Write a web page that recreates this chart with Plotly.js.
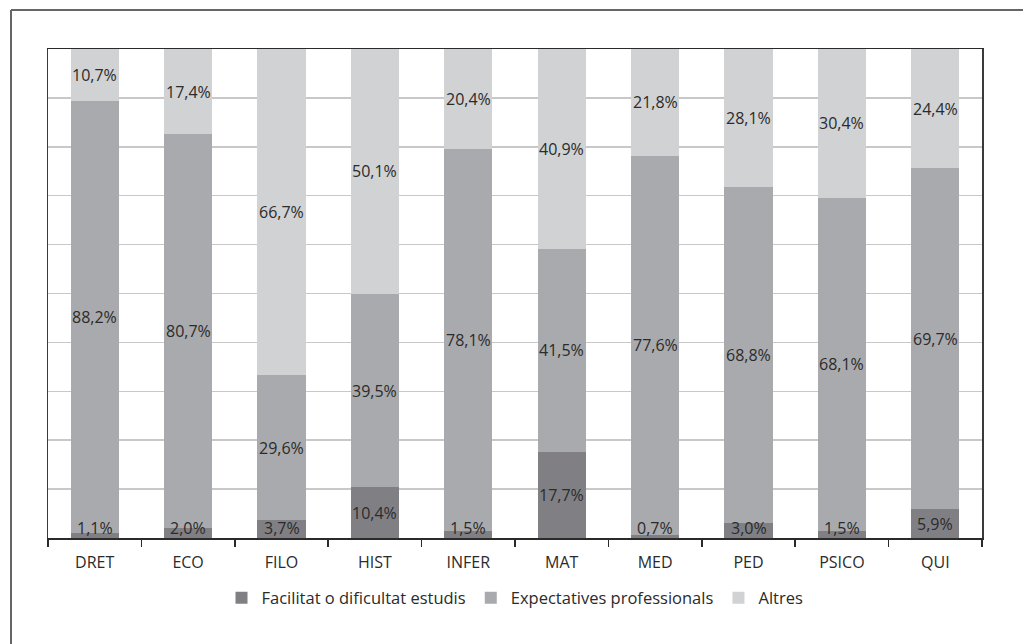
<!DOCTYPE html>
<html>
<head>
<meta charset="utf-8">
<script src="https://cdn.plot.ly/plotly-3.0.1.min.js"></script>
<style>
  html, body { margin: 0; padding: 0; background: #ffffff; }
  #chart { width: 1023px; height: 644px; }
</style>
</head>
<body>
<div id="chart"></div>
<script>
const categories = ["DRET", "ECO", "FILO", "HIST", "INFER", "MAT", "MED", "PED", "PSICO", "QUI"];
const facilitat = [1.1, 2.0, 3.7, 10.4, 1.5, 17.7, 0.7, 3.0, 1.5, 5.9];
const expectatives = [88.2, 80.7, 29.6, 39.5, 78.1, 41.5, 77.6, 68.8, 68.1, 69.7];
const altres = [10.7, 17.4, 66.7, 50.1, 20.4, 40.9, 21.8, 28.1, 30.4, 24.4];
const seriesNames = ["Facilitat o dificultat estudis", "Expectatives professionals", "Altres"];
const seriesColors = ["#808084", "#a9aaad", "#d1d2d4"];
const seriesValues = [facilitat, expectatives, altres];

const fmt = v => v.toFixed(1).replace('.', ',') + '%';
const FONT = "Open Sans, sans-serif";
const TXT = "#2b2b2b";

const data = seriesValues.map((vals, i) => ({
  type: 'bar',
  x: categories,
  y: vals,
  name: seriesNames[i],
  marker: { color: seriesColors[i], line: { width: 0 } },
  hoverinfo: 'none'
}));

// data labels: centred in each (normalised) segment, small bottom ones lifted a bit
const annotations = [];
categories.forEach((cat, k) => {
  const total = seriesValues.reduce((s, arr) => s + arr[k], 0);
  let cum = 0;
  seriesValues.forEach((arr, i) => {
    const v = arr[k] / total * 100;
    let mid = cum + v / 2;
    if (i === 0) mid = Math.max(mid, 2.1);
    cum += v;
    annotations.push({
      x: cat, y: mid, xref: 'x', yref: 'y',
      text: fmt(arr[k]), showarrow: false,
      xanchor: 'center', yanchor: 'middle',
      font: { family: FONT, size: 16, color: TXT }
    });
  });
});

const W = 1023, H = 644;
const mL = 48, mR = 41, mT = 49, mB = 106;
const pw = W - mL - mR, ph = H - mT - mB;
const px = x => (x - mL) / pw;
const py = y => (H - mB - y) / ph;

const layout = {
  width: W, height: H,
  margin: { l: mL, r: mR, t: mT, b: mB, pad: 0 },
  paper_bgcolor: '#ffffff',
  plot_bgcolor: '#ffffff',
  barmode: 'stack',
  barnorm: 'percent',
  bargap: 0.485,
  showlegend: true,
  legend: {
    orientation: 'h',
    x: 0.5, xanchor: 'center',
    y: py(598), yanchor: 'middle',
    font: { family: FONT, size: 16.5, color: TXT },
    traceorder: 'normal',
    itemwidth: 30
  },
  xaxis: {
    type: 'category',
    showline: true, linecolor: '#2a2a2a', linewidth: 1.5,
    mirror: true,
    ticks: 'outside', tickson: 'boundaries', ticklen: 7, tickcolor: '#2a2a2a', tickwidth: 1.5,
    ticklabelstandoff: 9,
    tickfont: { family: FONT, size: 16, color: TXT },
    showgrid: false,
    fixedrange: true
  },
  yaxis: {
    range: [0, 100],
    dtick: 10,
    showticklabels: false,
    ticks: '',
    showgrid: true, gridcolor: '#c8c8c8', gridwidth: 1.5,
    zeroline: false,
    showline: true, linecolor: '#3a3a3a', linewidth: 1.5,
    mirror: true,
    fixedrange: true
  },
  annotations: annotations,
  shapes: [
    { type: 'line', xref: 'paper', yref: 'paper', x0: px(11), x1: px(1030), y0: py(10), y1: py(10),
      line: { color: '#666666', width: 2 } },
    { type: 'line', xref: 'paper', yref: 'paper', x0: px(11), x1: px(11), y0: py(10), y1: py(700),
      line: { color: '#666666', width: 2 } }
  ]
};

Plotly.newPlot('chart', data, layout, { displayModeBar: false, staticPlot: true });
</script>
</body>
</html>
